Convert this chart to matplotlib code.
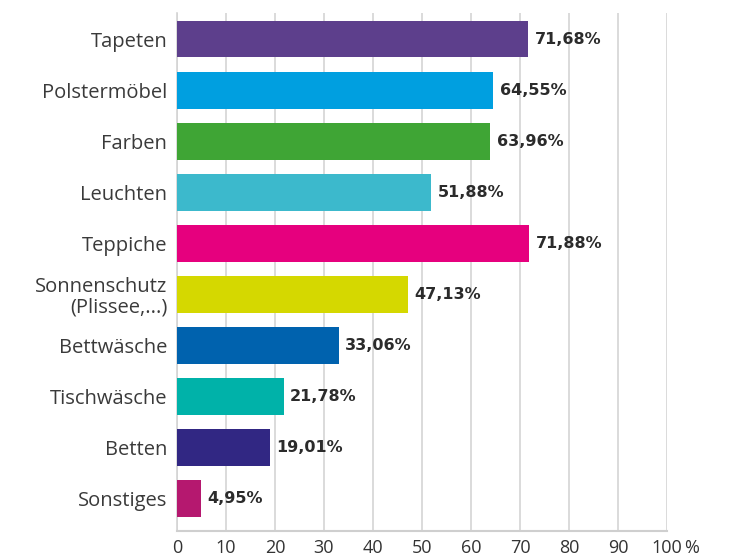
import matplotlib
matplotlib.use("Agg")
import matplotlib.pyplot as plt

categories = ["Tapeten", "Polstermöbel", "Farben", "Leuchten", "Teppiche",
              "Sonnenschutz\n(Plissee,...)", "Bettwäsche", "Tischwäsche", "Betten", "Sonstiges"]
values = [71.68, 64.55, 63.96, 51.88, 71.88, 47.13, 33.06, 21.78, 19.01, 4.95]
colors = ["#5D3F8C", "#009FE0", "#3FA535", "#3CB9CC", "#E6007E",
          "#D5D800", "#0062AE", "#00B2A9", "#312783", "#B5186F"]
xticks = [0, 10, 20, 30, 40, 50, 60, 70, 80, 90, 100]
xticklabels = ["0", "10", "20", "30", "40", "50", "60", "70", "80", "90", "100"]

fig = plt.figure(figsize=(7.45, 5.58), dpi=100)
ax = fig.add_axes([177/745, 1-531/558, 490/745, 518/558])

y = list(range(len(categories)))
ax.barh(y, values, height=0.72, color=colors, zorder=3)
for yi, v in zip(y, values):
    ax.annotate(f"{v:.2f}%".replace(".", ","), (v, yi), xytext=(4.5, 0),
                textcoords="offset points", va="center", ha="left",
                fontsize=11.5, fontweight="bold", color="#2b2b2b",
                family="DejaVu Sans")

ax.set_xlim(0, 100)
ax.set_ylim(9.63, -0.51)
ax.set_yticks(y)
ax.set_yticklabels(categories, fontsize=14.5, color="#3a3a3a", family="Open Sans",
                   linespacing=1.05)
ax.set_xticks(xticks)
ax.set_xticklabels(xticklabels, fontsize=13, color="#333333", family="Open Sans")
ax.tick_params(axis="both", length=0)
ax.tick_params(axis="y", pad=7)
ax.tick_params(axis="x", pad=6)
# percent sign after the last tick label
ax.annotate("%", (100, 0), xycoords=("data", "axes fraction"), xytext=(12, -6),
            textcoords="offset points", ha="left", va="top",
            fontsize=13, color="#333333", family="Open Sans")
ax.grid(axis="x", color="#d4d4d4", linewidth=1.2, zorder=0)
for s in ["top", "right"]:
    ax.spines[s].set_visible(False)
ax.spines["left"].set_color("#d4d4d4")
ax.spines["left"].set_linewidth(1.2)
ax.spines["bottom"].set_color("#cfcfcf")
ax.spines["bottom"].set_linewidth(1.5)

fig.savefig("out.png", dpi=100)
